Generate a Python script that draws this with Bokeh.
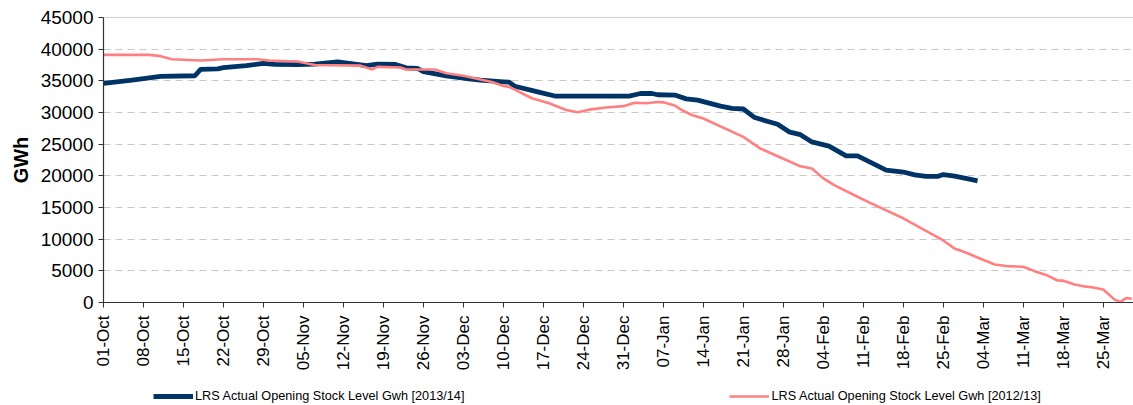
import math
from bokeh.plotting import figure
from bokeh.layouts import column
from bokeh.models import FixedTicker, Span, Legend, LegendItem, ColumnDataSource, Range1d
from bokeh.embed import file_html
from bokeh.resources import INLINE

# Days counted from 01-Oct of each season
blue_day = [0, 5, 10, 16, 17, 20, 21, 25, 28, 30, 34, 37, 41, 44, 46, 48, 51, 53, 55, 56,
            60, 64, 66, 70, 71, 72, 76, 79, 92, 94, 96, 97, 100, 102, 104, 108, 110, 112,
            114, 118, 120, 122, 124, 127, 130, 132, 137, 140, 142, 144, 146, 147, 149, 152, 153]
blue_gwh = [34600, 35100, 35700, 35800, 36800, 36900, 37100, 37400, 37750, 37600, 37550, 37650,
            38000, 37650, 37400, 37650, 37600, 37050, 36950, 36450, 35800, 35300, 35100, 34850,
            34800, 34150, 33250, 32600, 32600, 33000, 33000, 32800, 32750, 32150, 31950, 31000,
            30650, 30550, 29200, 28150, 26950, 26500, 25350, 24700, 23150, 23150, 20900, 20600,
            20150, 19900, 19900, 20200, 19950, 19400, 19200]

pink_day = [0, 8, 10, 12, 17, 21, 27, 29, 34, 37, 45, 47, 48, 52, 53, 58, 60, 63, 65, 68, 70,
            71, 75, 78, 81, 83, 85, 88, 91, 93, 95, 97, 98, 100, 101, 103, 105, 112, 115, 119,
            122, 124, 126, 128, 132, 134, 140, 147, 149, 150, 152, 153, 156, 158, 161, 163, 165,
            167, 168, 170, 172, 173, 175, 177, 178, 179, 180]
pink_gwh = [39100, 39100, 38900, 38400, 38200, 38400, 38400, 38200, 38050, 37500, 37400, 36800,
            37200, 37100, 36800, 36800, 36200, 35800, 35400, 34800, 34200, 34050, 32250, 31450,
            30400, 30050, 30450, 30800, 31000, 31550, 31450, 31650, 31600, 31100, 30500, 29600,
            29050, 26150, 24300, 22700, 21500, 21150, 19600, 18500, 16700, 15800, 13300, 9800,
            8500, 8200, 7500, 7100, 6000, 5750, 5650, 4950, 4350, 3480, 3450, 2830, 2500, 2420,
            2050, 450, 100, 700, 600]

tick_days = list(range(0, 176, 7))
tick_labels = ["01-Oct", "08-Oct", "15-Oct", "22-Oct", "29-Oct", "05-Nov", "12-Nov", "19-Nov",
               "26-Nov", "03-Dec", "10-Dec", "17-Dec", "24-Dec", "31-Dec", "07-Jan", "14-Jan",
               "21-Jan", "28-Jan", "04-Feb", "11-Feb", "18-Feb", "25-Feb", "04-Mar", "11-Mar",
               "18-Mar", "25-Mar"]
y_ticks = list(range(0, 45001, 5000))

label_blue = "LRS Actual Opening Stock Level Gwh [2013/14]"
label_pink = "LRS Actual Opening Stock Level Gwh [2012/13]"
color_blue = "#003366"
color_pink = "#FF8080"

FONT = "Liberation Sans"

p = figure(width=1133, height=380, output_backend="svg", toolbar_location=None,
           x_range=(0, 180.3), y_range=(0, 45000),
           min_border_left=103, min_border_right=0, min_border_top=17, min_border_bottom=78)
p.outline_line_color = None
p.background_fill_color = "white"
p.border_fill_color = "white"

src_b = ColumnDataSource(dict(x=blue_day, y=blue_gwh))
src_p = ColumnDataSource(dict(x=pink_day, y=pink_gwh))
p.line("x", "y", source=src_b, line_color=color_blue, line_width=4.8, line_join="round")
p.line("x", "y", source=src_p, line_color=color_pink, line_width=2.6, line_join="round")

p.add_layout(Span(location=45000, dimension="width", line_color="#A0A0A0", line_width=1))

p.xgrid.grid_line_color = None
p.ygrid.ticker = FixedTicker(ticks=y_ticks)
p.ygrid.grid_line_color = "#C8C8C8"
p.ygrid.grid_line_dash = "7 5"
p.ygrid.grid_line_width = 1

p.yaxis.ticker = FixedTicker(ticks=y_ticks)
p.yaxis.major_label_overrides = {t: str(t) for t in y_ticks}
p.yaxis.axis_label = "GWh"
p.yaxis.axis_label_text_font = FONT
p.yaxis.axis_label_text_font_style = "bold"
p.yaxis.axis_label_text_font_size = "20px"
p.yaxis.axis_label_text_color = "black"
p.yaxis.axis_label_standoff = 6
p.yaxis.major_label_text_font = FONT
p.yaxis.major_label_text_font_size = "19px"
p.yaxis.major_label_text_color = "black"
p.yaxis.major_label_standoff = 5

p.xaxis.ticker = FixedTicker(ticks=tick_days)
p.xaxis.major_label_overrides = dict(zip(tick_days, tick_labels))
p.xaxis.major_label_orientation = math.pi / 2
p.xaxis.major_label_text_font = FONT
p.xaxis.major_label_text_font_size = "17px"
p.xaxis.major_label_text_color = "black"
p.xaxis.major_label_standoff = 8

for ax in (p.xaxis, p.yaxis):
    ax.axis_line_color = "#333333"
    ax.axis_line_width = 1.2
    ax.major_tick_line_color = "#333333"
    ax.major_tick_in = 0
    ax.major_tick_out = 5
    ax.minor_tick_line_color = None

# legend strip below the chart (same series, kept out of its view range)
lg = figure(width=1133, height=25, output_backend="svg", toolbar_location=None,
            x_axis_type=None, y_axis_type=None, min_border=0,
            x_range=Range1d(-20, -10), y_range=Range1d(0, 1))
lg.outline_line_color = None
lg.grid.visible = False
kb = lg.line("x", "y", source=src_b, line_color=color_blue, line_width=4.8)
kp = lg.line("x", "y", source=src_p, line_color=color_pink, line_width=2.6)
legend = Legend(items=[LegendItem(label=label_blue, renderers=[kb]),
                       LegendItem(label=label_pink, renderers=[kp])],
                orientation="horizontal", location=(50, 2), spacing=265,
                glyph_width=40, glyph_height=14, label_height=14, label_standoff=2,
                padding=0, margin=0, border_line_color=None, background_fill_alpha=0,
                label_text_font=FONT, label_text_font_size="12.7px", label_text_color="black")
lg.add_layout(legend, "center")

open("out.html", "w").write(file_html(column(p, lg, spacing=0), INLINE))
